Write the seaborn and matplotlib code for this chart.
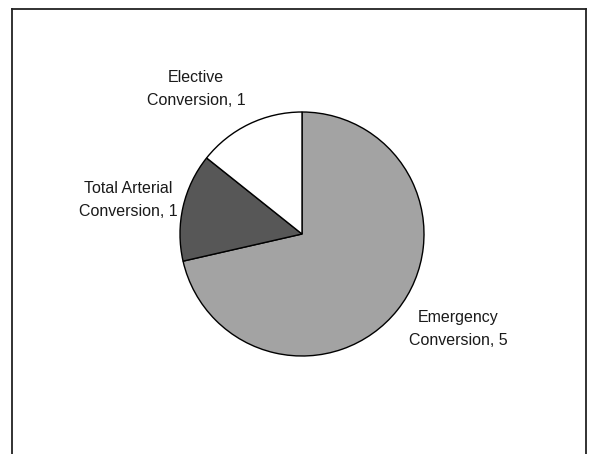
import matplotlib
matplotlib.use("Agg")
import matplotlib.pyplot as plt
import seaborn as sns

# Conversion types and counts
labels = ["Emergency\nConversion, 5", "Total Arterial\nConversion, 1", "Elective\nConversion, 1"]
counts = [5, 1, 1]
colors = ["#a3a3a3", "#575757", "#ffffff"]

sns.set_theme(style="white")
plt.rcParams["font.family"] = ["Liberation Sans", "DejaVu Sans"]

fig = plt.figure(figsize=(5.93, 4.54), dpi=100)

# outer frame (no bottom edge visible, it runs off the picture)
frame = fig.add_axes([12 / 593, -0.05, 574 / 593, 1.05 - 8.5 / 454])
frame.set_xticks([])
frame.set_yticks([])
frame.spines["bottom"].set_visible(False)
for s in ["left", "right", "top"]:
    frame.spines[s].set_color("#222222")
    frame.spines[s].set_linewidth(1.3)
frame.patch.set_alpha(0)

# pie axes in pixel units
ax = fig.add_axes([0, 0, 1, 1])
ax.set_aspect("equal")

wedges, _ = ax.pie(
    counts,
    colors=colors,
    startangle=90,
    counterclock=False,
    center=(302, 454 - 234),
    radius=122,
    wedgeprops=dict(edgecolor="black", linewidth=1),
    frame=True,
)
ax.set_xlim(0, 593)
ax.set_ylim(0, 454)
ax.axis("off")

label_pos = [(458, 454 - 329), (128, 454 - 200), (196, 454 - 89)]
for txt, (x, y) in zip(labels, label_pos):
    ax.text(x, y, txt, ha="center", va="center", fontsize=11.5,
            color="#1a1a1a", linespacing=1.6)

fig.savefig("out.png", dpi=100)
